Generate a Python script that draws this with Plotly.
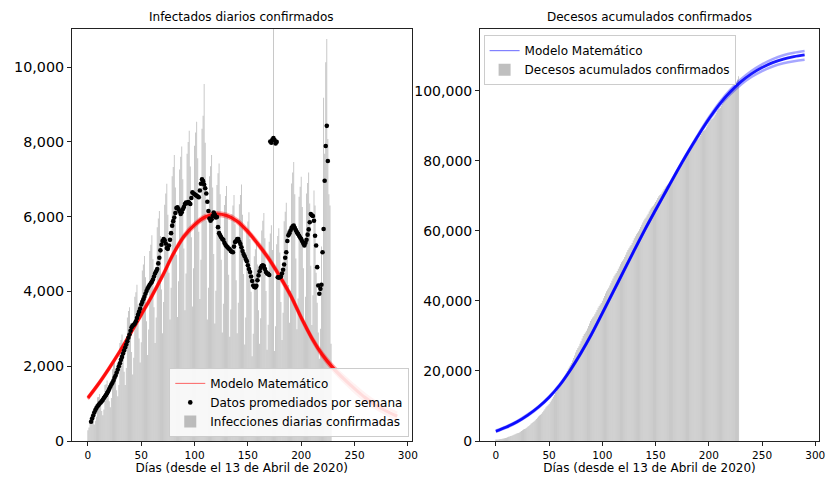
import plotly.graph_objects as go

# ---------------- DATA ----------------
days_bars = list(range(0, 229))
infections = [
    290, 360, 620, 650, 680, 600, 440,
    540, 650, 1170, 1180, 1260, 1120, 800,
    690, 840, 1500, 1520, 1620, 1400, 1060,
    900, 1150, 1920, 2050, 2100, 1880, 1360,
    1200, 1500, 2620, 2700, 2850, 2480, 1850,
    1500, 1950, 3300, 3480, 3580, 3150, 2380,
    1780, 2230, 3860, 3980, 4180, 3650, 2740,
    2100, 2640, 4560, 4720, 4950, 4380, 3200,
    2300, 2980, 5080, 5250, 5500, 4860, 3580,
    2620, 3300, 5720, 5950, 6150, 5480, 4050,
    2880, 3720, 6320, 6620, 6880, 6050, 4500,
    3250, 4100, 7080, 7330, 7650, 6780, 4980,
    3320, 4270, 7260, 7600, 7880, 7000, 5150,
    3500, 4480, 7680, 8000, 8300, 7340, 5450,
    3600, 4620, 7900, 8250, 8540, 7560, 5600,
    3800, 4850, 8350, 8700, 9550, 7980, 5900,
    3250, 4100, 7080, 7350, 7650, 6780, 5000,
    3140, 4020, 6850, 7160, 7420, 6600, 4850,
    2900, 3670, 6310, 6550, 6820, 6050, 4450,
    2790, 3520, 6070, 6300, 6580, 5800, 4300,
    2880, 3700, 6330, 6580, 6860, 6050, 4470,
    2580, 3300, 5650, 5870, 6120, 5400, 3990,
    2270, 2870, 4940, 5130, 5350, 4720, 3500,
    2600, 3280, 5630, 5890, 6100, 5420, 4010,
    2440, 3110, 5330, 5550, 5770, 5110, 28700,
    2410, 3070, 5260, 5480, 5690, 5040, 3720,
    2700, 3430, 5880, 6130, 6370, 5640, 4170,
    3160, 4020, 6890, 7180, 7460, 6600, 4880,
    2990, 3810, 6530, 6800, 7070, 6260, 4620,
    3040, 3860, 6620, 6900, 7180, 6350, 4690,
    3100, 3900, 6700, 6300, 4500, 3700, 2900,
    2200, 3000, 5200, 4100, 9180, 7680, 10130,
    10750, 8080, 6600, 6300, 2600,
]

days_avg = list(range(3, 226))
weekly_avg = [
    515, 600, 680, 760, 827, 880, 930, 960, 1000, 1030,
    1060, 1100, 1150, 1190, 1230, 1280, 1330, 1390, 1450, 1510,
    1560, 1620, 1690, 1750, 1830, 1910, 2000, 2080, 2170, 2250,
    2340, 2420, 2500, 2580, 2670, 2760, 2850, 2950, 3040, 3090,
    3110, 3140, 3200, 3290, 3380, 3460, 3540, 3650, 3720, 3790,
    3860, 3940, 4010, 4080, 4130, 4180, 4220, 4260, 4320, 4400,
    4480, 4540, 4600, 4750, 4900, 5100, 5250, 5350, 5400, 5370,
    5280, 5160, 5140, 5230, 5380, 5560, 5760, 5880, 5980, 6100,
    6230, 6250, 6200, 6140, 6070, 6120, 6200, 6260, 6340, 6380,
    6360, 6390, 6370, 6340, 6500, 6650, 6620, 6600, 6580, 6560,
    6540, 6520, 6700, 6880, 7000, 6950, 6860, 6760, 6620, 6400,
    6150, 5950, 5890, 5930, 6020, 6110, 6050, 5980, 5990, 5720,
    5560, 5500, 5450, 5400, 5380, 5300, 5250, 5210, 5180, 5150,
    5130, 5080, 5060, 5050, 5200, 5320, 5350, 5400, 5400, 5330,
    5270, 5180, 5080, 5000, 4940, 4870, 4810, 4700, 4600, 4520,
    4400, 4280, 4160, 4120, 4110, 4150, 4300, 4430, 4540, 4630,
    4680, 4700, 4680, 4600, 4520, 4480, 4470, 4440, 8010, 7980,
    8060, 8100, 8050, 7960, 8000, 4380, 4370, 4380, 4400, 4480,
    4580, 4720, 4900, 5050, 5350, 5500, 5560, 5630, 5700, 5740,
    5760, 5700, 5640, 5580, 5540, 5490, 5440, 5400, 5340, 5280,
    5230, 5300, 5380, 5520, 5660, 5850, 6070, 6040, 6020, 5890,
    5490, 5230, 4650, 4160, 3940, 4070, 4180, 5050, 5670, 6960,
    7890, 8430, 7490,
]

model_days = list(range(0, 291, 10))
inf_model_lo = [1120, 1500, 1920, 2370, 2850, 3340, 3840, 4380, 4960, 5420,
                5730, 5940, 6020, 5980, 5830, 5550, 5200, 4810, 4350, 3850,
                3250, 2700, 2240, 1880, 1580, 1310, 1070, 870, 710, 570]
inf_model_mid = [1150, 1530, 1950, 2400, 2880, 3380, 3880, 4420, 5000, 5470,
                 5780, 5990, 6070, 6030, 5880, 5600, 5250, 4860, 4400, 3900,
                 3300, 2750, 2300, 1950, 1660, 1400, 1160, 960, 800, 660]
inf_model_hi = [1180, 1560, 1980, 2430, 2910, 3420, 3920, 4460, 5040, 5520,
                5830, 6040, 6120, 6080, 5930, 5650, 5300, 4910, 4450, 3950,
                3350, 2800, 2360, 2020, 1740, 1490, 1250, 1050, 890, 750]

deaths = [
    400, 430, 460, 510, 550, 600, 650,
    700, 760, 850, 960, 1070, 1200, 1300,
    1400, 1500, 1620, 1750, 1900, 2050, 2180,
    2300, 2450, 2650, 2850, 3050, 3250, 3450,
    3600, 3800, 4050, 4300, 4600, 4900, 5150,
    5400, 5650, 5950, 6300, 6650, 7000, 7250,
    7500, 7800, 8200, 8650, 9100, 9550, 9900,
    10200, 10550, 11050, 11550, 12100, 12650, 13150,
    13700, 14100, 14650, 15250, 15900, 16600, 17100,
    17600, 18050, 18650, 19300, 20000, 20700, 21300,
    21800, 22300, 23000, 23700, 24450, 25300, 26000,
    26600, 27100, 27800, 28500, 29250, 30000, 30550,
    31000, 31500, 32150, 32850, 33550, 34250, 34800,
    35300, 35650, 36200, 36800, 37450, 38050, 38550,
    39000, 39400, 40050, 40750, 41450, 42150, 42750,
    43300, 43750, 44400, 45050, 45750, 46450, 47050,
    47600, 48000, 48600, 49200, 49850, 50500, 51050,
    51500, 51900, 52550, 53200, 53900, 54550, 55100,
    55600, 56000, 56600, 57250, 57900, 58500, 59050,
    59500, 59900, 60500, 61150, 61800, 62450, 63000,
    63500, 63850, 64400, 64950, 65550, 66100, 66600,
    67000, 67300, 67800, 68300, 68800, 69400, 69900,
    70300, 70550, 71000, 71500, 72000, 72450, 72850,
    73200, 73400, 73800, 74200, 74650, 75100, 75500,
    75900, 76150, 76550, 77000, 77500, 78000, 78500,
    79000, 79400, 80200, 81000, 81800, 82500, 82950,
    83300, 83500, 83900, 84450, 84950, 85400, 85750,
    86000, 86200, 86600, 87150, 87700, 88200, 88550,
    88800, 89050, 89600, 90200, 90800, 91300, 91700,
    92000, 92200, 92700, 93200, 93800, 94350, 94750,
    95000, 95200, 95700, 96250, 96800, 97350, 97750,
    98000, 98200, 98700, 99300, 99950, 100550, 101000,
    101300, 101500, 102300, 103300, 104200,
]

death_model_lo = [2600, 3800, 5300, 7200, 9500, 12300, 15800, 20100, 25000, 30400,
                  36300, 42300, 48300, 54300, 60200, 65800, 71300, 76800, 82100, 87000,
                  91600, 95700, 99000, 101800, 104000, 105700, 107000, 107900, 108500, 108900]
death_model_mid = [2800, 4000, 5500, 7400, 9700, 12500, 16000, 20300, 25200, 30600,
                   36500, 42500, 48500, 54500, 60400, 66000, 71500, 77000, 82300, 87300,
                   92000, 96200, 99700, 102600, 104900, 106700, 108100, 109100, 109800, 110300]
death_model_hi = [3000, 4200, 5700, 7600, 9900, 12700, 16200, 20500, 25400, 30800,
                  36700, 42700, 48700, 54700, 60600, 66200, 71700, 77200, 82500, 87600,
                  92400, 96700, 100300, 103300, 105700, 107600, 109100, 110200, 110900, 111400]

x_ticks = [0, 50, 100, 150, 200, 250, 300]
inf_ticks = [0, 2000, 4000, 6000, 8000, 10000]
death_ticks = [0, 20000, 40000, 60000, 80000, 100000]

# ---------------- FIGURE ----------------
FONT = "DejaVu Sans"
BAR_COLOR = "rgba(128,128,128,0.5)"
fig = go.Figure()

# Left panel
fig.add_trace(go.Scatter(x=[None], y=[None], mode="lines", name="Modelo Matemático",
                         line=dict(color="rgba(255,0,0,0.6)", width=1),
                         xaxis="x", yaxis="y", legend="legend"))
for arr, col, w in ((inf_model_lo, "rgba(255,0,0,0.35)", 2.5),
                    (inf_model_hi, "rgba(255,0,0,0.35)", 2.5),
                    (inf_model_mid, "rgba(255,0,0,0.9)", 3.2)):
    fig.add_trace(go.Scatter(x=model_days, y=arr, mode="lines", showlegend=False,
                             line=dict(color=col, width=w, shape="spline"),
                             hoverinfo="skip", xaxis="x", yaxis="y"))
fig.add_trace(go.Scatter(x=days_avg, y=weekly_avg, mode="markers",
                         name="Datos promediados por semana",
                         marker=dict(color="black", size=4.6),
                         xaxis="x", yaxis="y", legend="legend"))
fig.add_trace(go.Bar(x=days_bars, y=infections, width=0.8,
                     name="Infecciones diarias confirmadas",
                     marker=dict(color=BAR_COLOR, line=dict(width=0)),
                     xaxis="x", yaxis="y", legend="legend"))

# Right panel
fig.add_trace(go.Scatter(x=[None], y=[None], mode="lines", name="Modelo Matemático",
                         line=dict(color="rgba(0,0,255,0.6)", width=1),
                         xaxis="x2", yaxis="y2", legend="legend2"))
for arr, col, w in ((death_model_lo, "rgba(0,0,255,0.35)", 2.5),
                    (death_model_hi, "rgba(0,0,255,0.35)", 2.5),
                    (death_model_mid, "rgba(0,0,255,0.9)", 2.8)):
    fig.add_trace(go.Scatter(x=model_days, y=arr, mode="lines", showlegend=False,
                             line=dict(color=col, width=w, shape="spline"),
                             hoverinfo="skip", xaxis="x2", yaxis="y2"))
fig.add_trace(go.Bar(x=days_bars, y=deaths, width=0.8,
                     name="Decesos acumulados confirmados",
                     marker=dict(color=BAR_COLOR, line=dict(width=0)),
                     xaxis="x2", yaxis="y2", legend="legend2"))

axis_common = dict(showline=True, linecolor="#222", linewidth=1, mirror=True,
                   ticks="outside", ticklen=4, tickcolor="#222", showgrid=False,
                   zeroline=False)

fig.update_layout(
    width=828, height=477,
    margin=dict(l=72, r=3, t=29, b=36),
    paper_bgcolor="white", plot_bgcolor="white",
    font=dict(family=FONT, color="black"),
    bargap=0.2,
    xaxis=dict(domain=[0, 0.4546], range=[-14.9, 303.5], tickvals=x_ticks,
               tickfont=dict(size=10.5), anchor="y",
               title=dict(text="Días (desde el 13 de Abril de 2020)", font=dict(size=12), standoff=3),
               **axis_common),
    yaxis=dict(domain=[0, 1], range=[0, 11020], tickvals=inf_ticks, tickformat=",",
               tickfont=dict(size=14.3), anchor="x", **axis_common),
    xaxis2=dict(domain=[0.5462, 1], range=[-14.9, 303.5], tickvals=x_ticks,
                tickfont=dict(size=10.5), anchor="y2",
                title=dict(text="Días (desde el 13 de Abril de 2020)", font=dict(size=12), standoff=3),
                **axis_common),
    yaxis2=dict(domain=[0, 1], range=[0, 117700], tickvals=death_ticks, tickformat=",",
                tickfont=dict(size=14), anchor="x2", **axis_common),
    legend=dict(x=0.4515, y=0.01, xanchor="right", yanchor="bottom",
                bgcolor="rgba(255,255,255,0.85)", bordercolor="#cccccc", borderwidth=1,
                font=dict(size=12), tracegroupgap=0),
    legend2=dict(x=0.551, y=0.985, xanchor="left", yanchor="top",
                 bgcolor="rgba(255,255,255,0.85)", bordercolor="#cccccc", borderwidth=1,
                 font=dict(size=12), tracegroupgap=0),
    annotations=[
        dict(text="Infectados diarios confirmados", x=0.2273, y=1.0, xref="paper", yref="paper",
             xanchor="center", yanchor="bottom", yshift=3, showarrow=False, font=dict(size=12)),
        dict(text="Decesos acumulados confirmados", x=0.7731, y=1.0, xref="paper", yref="paper",
             xanchor="center", yanchor="bottom", yshift=3, showarrow=False, font=dict(size=12)),
    ],
)

fig.write_html("out.html", config={"staticPlot": True},
               post_script="document.body.style.margin='0';document.body.style.overflow='hidden';")
